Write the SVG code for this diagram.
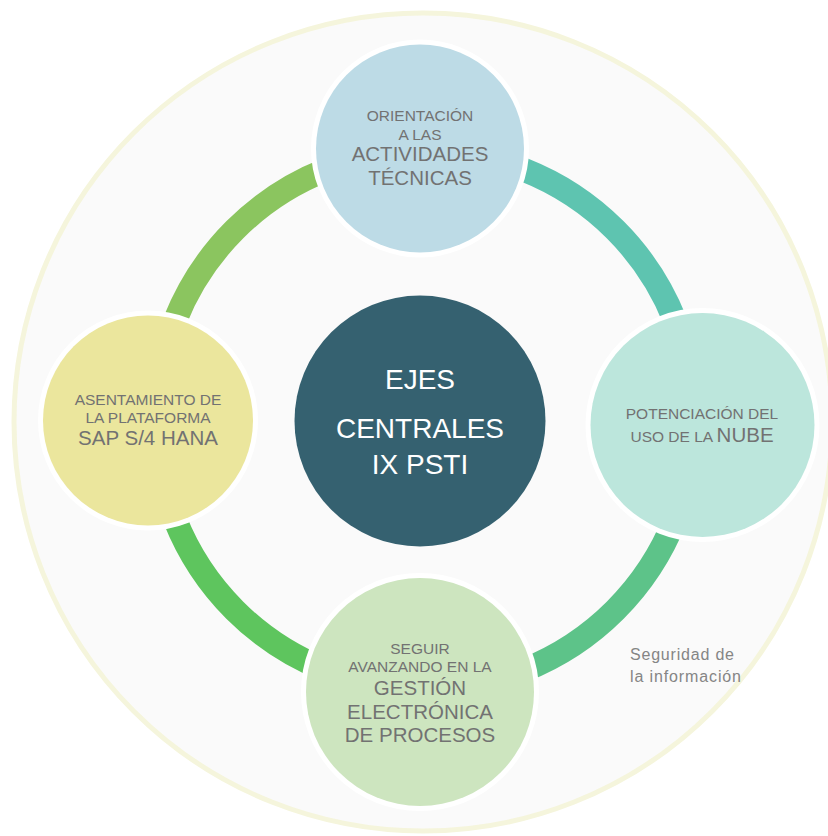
<svg xmlns="http://www.w3.org/2000/svg" width="828" height="836" viewBox="0 0 828 836">
<style>
  .node { stroke: #ffffff; stroke-width: 10; paint-order: stroke; }
  .seg { fill: none; stroke-width: 24; stroke-linecap: butt; }
  .t { font-family: "Liberation Sans", Arial, sans-serif; fill: #727272; text-anchor: middle; }
  .s { font-size: 15.5px; }
  .l { font-size: 20.5px; }
  .c { font-family: "Liberation Sans", Arial, sans-serif; fill: #ffffff; text-anchor: middle; font-size: 28px; }
  .note { font-family: "Liberation Sans", Arial, sans-serif; fill: #858585; font-size: 16px; }
</style>
<rect width="828" height="836" fill="#ffffff"/>
<g id="outer">
  <circle cx="423" cy="422" r="409" fill="#fafafa" stroke="#f5f5dc" stroke-width="5"/>
</g>
<g id="connectors">
  <path class="seg" stroke="#8bc55f" d="M 156 420 A 269 269 0 0 1 425 151"/>
  <path class="seg" stroke="#5ec4b0" d="M 425 151 A 269 269 0 0 1 694 420"/>
  <path class="seg" stroke="#5dc389" d="M 694 420 A 269 269 0 0 1 425 689"/>
  <path class="seg" stroke="#5ec55e" d="M 425 689 A 269 269 0 0 1 156 420"/>
</g>
<g id="center">
  <circle cx="420" cy="421" r="125.5" fill="#356170"/>
  <text class="c" x="420" y="389">EJES</text>
  <text class="c" x="420" y="438">CENTRALES</text>
  <text class="c" x="420" y="474">IX PSTI</text>
</g>
<g id="node-top">
  <circle class="node" cx="420" cy="148.5" r="104" fill="#bddbe6"/>
  <text class="t s" x="420" y="121">ORIENTACIÓN</text>
  <text class="t s" x="420" y="139.5">A LAS</text>
  <text class="t l" x="420" y="161">ACTIVIDADES</text>
  <text class="t l" x="420" y="185">TÉCNICAS</text>
</g>
<g id="node-right">
  <circle class="node" cx="702.5" cy="425" r="112" fill="#bce6dc"/>
  <text class="t s" x="702" y="419">POTENCIACIÓN DEL</text>
  <text class="t" x="702" y="441.5"><tspan class="s">USO DE LA </tspan><tspan class="l">NUBE</tspan></text>
</g>
<g id="node-bottom">
  <circle class="node" cx="420" cy="692" r="114" fill="#cde5bf"/>
  <text class="t s" x="420" y="654">SEGUIR</text>
  <text class="t s" x="420" y="671.5">AVANZANDO EN LA</text>
  <text class="t l" x="420" y="694.5">GESTIÓN</text>
  <text class="t l" x="420" y="718.5">ELECTRÓNICA</text>
  <text class="t l" x="420" y="742">DE PROCESOS</text>
</g>
<g id="node-left">
  <circle class="node" cx="148" cy="420.5" r="105" fill="#ebe69d"/>
  <text class="t s" x="148" y="405">ASENTAMIENTO DE</text>
  <text class="t s" x="148" y="423">LA PLATAFORMA</text>
  <text class="t l" x="148" y="445">SAP S/4 HANA</text>
</g>
<g id="label-security">
  <text class="note" x="630" y="660" textLength="104" lengthAdjust="spacing">Seguridad de</text>
  <text class="note" x="630" y="682" textLength="111" lengthAdjust="spacing">la información</text>
</g>
</svg>
